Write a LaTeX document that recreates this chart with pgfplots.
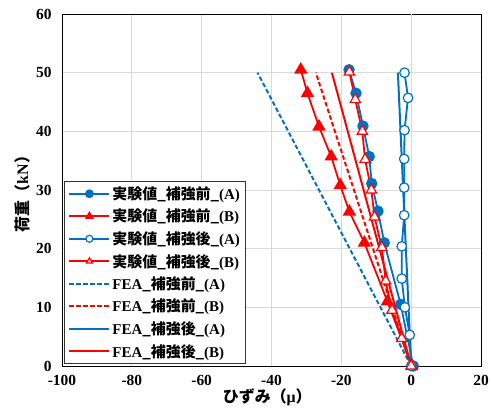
\documentclass[border=0pt]{standalone}
\usepackage{fontspec}
\setmainfont{Liberation Serif}
\newfontfamily\jp{Noto Sans CJK JP}
\usepackage{pgfplots}
\pgfplotsset{compat=1.18}
\definecolor{xlblue}{RGB}{0,112,192}
\definecolor{xlred}{RGB}{255,0,0}
\begin{document}
\begin{tikzpicture}
\path[use as bounding box] (-62bp,-45bp) rectangle (429bp,366bp);
\begin{axis}[
  scale only axis, width=419bp, height=352bp,
  xmin=-100, xmax=20, ymin=0, ymax=60,
  xtick={-100,-80,...,20}, ytick={0,10,...,60},
  grid=major, major grid style={color=black!15, line width=0.8pt},
  extra x ticks={0}, extra x tick labels={},
  extra x tick style={grid style={color=black!70, line width=1pt}},
  major tick length=0,
  axis line style={black, line width=0.9pt},
  /pgf/number format/assume math mode=true,
  tick label style={font=\fontsize{15.5}{17}\selectfont\bfseries},
  xticklabel style={yshift=-6bp},
  yticklabel style={xshift=-7bp},
  label style={font=\fontsize{16}{18}\selectfont\bfseries},
  xlabel={{\jp ひずみ（}μ{\jp ）}},
  ylabel={{\jp 荷重（}kN{\jp ）}},
  xlabel style={at={([yshift=-31bp]axis description cs:0.49,0)}, anchor=center},
  ylabel style={at={([xshift=-40bp]axis description cs:0,0.5)}, anchor=center},
  clip=false,
  legend style={at={([xshift=2bp,yshift=2bp]axis description cs:0,0)}, anchor=south west,
    draw=black!80, line width=0.9pt, fill=white,
    font=\fontsize{15}{16}\selectfont\bfseries, row sep=4.2bp,
    inner xsep=4bp, inner ysep=3bp},
  legend cell align=left,
  legend image code/.code={\draw[mark repeat=2, mark phase=2, #1, mark size=3.5pt]
    plot coordinates {(0bp,0bp) (20bp,0bp) (40bp,0bp)};},
]
% 実験値_補強前_(A)
\addplot[xlblue, line width=1.8pt, mark=*, mark size=4.8pt, mark options={fill=xlblue, solid}]
  coordinates {(0.6,0) (-3,10.5) (-7.7,21) (-9.5,26.4) (-11.3,31.1) (-12,35.7) (-13.8,40.9) (-15.8,46.5) (-17.8,50.5)};
% 実験値_補強前_(B)
\addplot[xlred, line width=1.8pt, mark=triangle*, mark size=6pt, mark options={fill=xlred, solid}]
  coordinates {(0.2,0) (-6.8,11) (-13.4,21) (-17.7,26.3) (-20.3,30.8) (-22.9,35.7) (-26.4,40.8) (-29.7,46.5) (-31.6,50.5)};
% 実験値_補強後_(A)
\addplot[xlblue, line width=1.8pt, mark=*, mark size=4.8pt, mark options={fill=white, draw=xlblue, line width=1.2pt, solid}]
  coordinates {(0,0) (-0.4,5.3) (-1.8,10) (-2.7,14.9) (-2.7,20.4) (-2,25.7) (-2,30.4) (-2,35.3) (-1.9,40.2) (-0.9,45.7) (-1.9,50)};
% 実験値_補強後_(B)
\addplot[xlred, line width=1.8pt, mark=triangle*, mark size=6pt, mark options={fill=white, draw=xlred, line width=1.2pt, solid}]
  coordinates {(0,0) (-2.7,4.7) (-5.5,9.5) (-7.3,14.5) (-8.4,20.2) (-10.5,25.4) (-11.4,30) (-13.2,35.2) (-14,40) (-16,45.4) (-17.7,50.1)};
% FEA
\addplot[xlblue, line width=2pt, dash pattern=on 4.5bp off 2.5bp, mark=none]
  coordinates {(0,0) (-44,50)};
\addplot[xlred, line width=2pt, dash pattern=on 4.5bp off 2.5bp, mark=none]
  coordinates {(0,0) (-27.3,50)};
\addplot[xlblue, line width=2pt, mark=none]
  coordinates {(0,0) (-3.8,50)};
\addplot[xlred, line width=2pt, mark=none]
  coordinates {(0,0) (-22.7,50)};
\legend{
  {\jp 実験値\_補強前\_}(A),
  {\jp 実験値\_補強前\_}(B),
  {\jp 実験値\_補強後\_}(A),
  {\jp 実験値\_補強後\_}(B),
  FEA{\jp \_補強前\_}(A),
  FEA{\jp \_補強前\_}(B),
  FEA{\jp \_補強後\_}(A),
  FEA{\jp \_補強後\_}(B)}
\end{axis}
\end{tikzpicture}
\end{document}
